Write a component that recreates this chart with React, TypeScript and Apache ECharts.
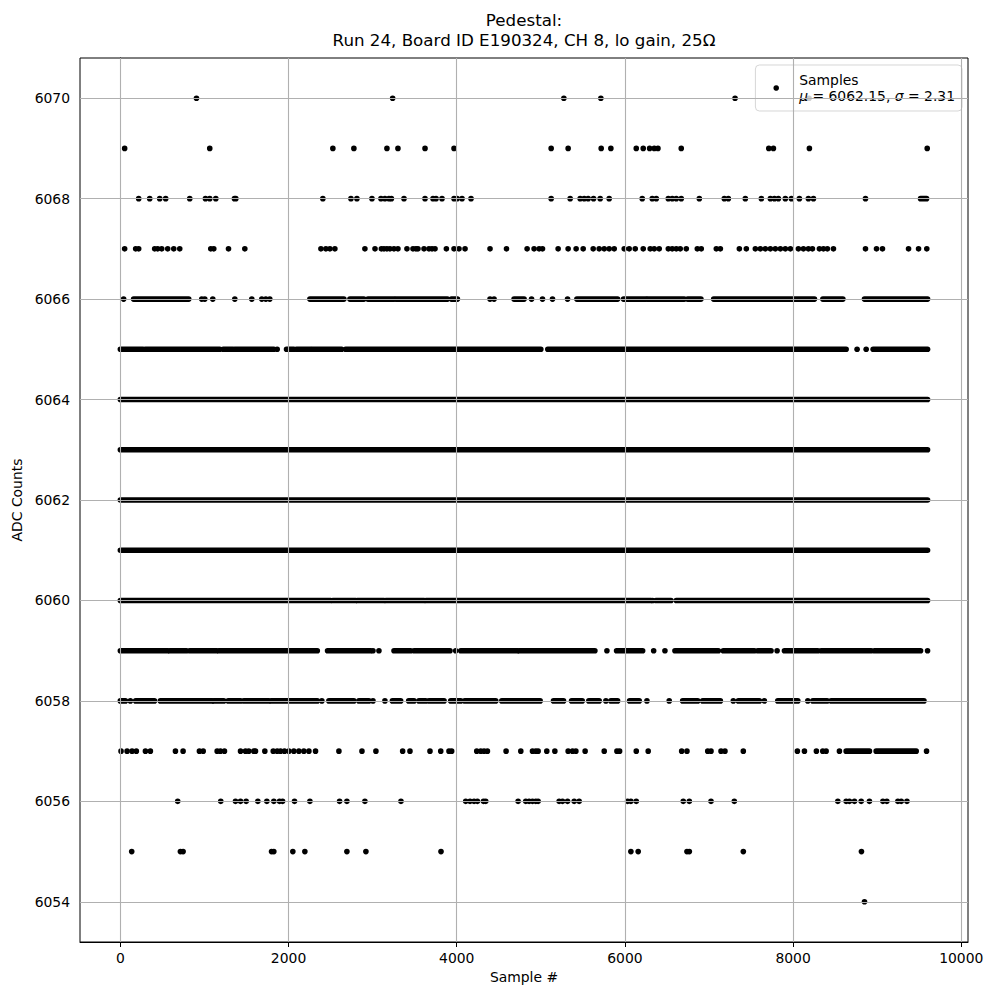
import React, { useEffect, useRef } from "react";
import * as echarts from "echarts";

// Sample numbers at each ADC level. A number is a single sample; a pair is a run of
// consecutive samples that merge into a solid row in the picture.
type Mark = number | [number, number];

const L6070: Mark[] = [905, 3238, 5274, 5714, 7310, 8190];
const L6069: Mark[] = [51, 1063, 2527, 2777, 3170, 3301, 3623, 3968, 5123, 5325, 5718, 5833, 6135, 6218, 6294, 6349, 6393, 6670, 7711, 7766, 8194, 9595];
const L6068: Mark[] = [218, 349, 468, 539, 825, 1012, 1063, 1135, [1357, 1373], 2408, 2742, 2813, 2992, 3099, 3146, 3194, 3223, 3373, 3623, 3718, 3754, 3825, 3968, 4004, 4063, 4170, 5123, 5349, 5468, 5516, 5563, 5627, 5706, 5813, 6206, 6325, 6373, 6516, 6563, 6611, 6670, 6885, 7182, 7230, 7432, 7623, 7730, 7778, 7825, 7908, 7980, 8075, 8182, 8242, 8861, [9516, 9587]];
const L6067: Mark[] = [51, 182, 218, 408, 444, 492, 563, 635, 706, 1075, 1111, 1286, 1480, 2385, 2444, 2492, 2551, 2908, 3028, 3104, 3135, 3170, 3206, 3254, 3301, 3408, 3480, 3515, 3539, 3611, 3670, 3706, 3742, 3877, 3968, 4027, 4099, 4396, 4592, 4837, 4920, 4980, 5020, 5206, 5325, 5420, 5504, 5623, 5694, 5754, 5813, 5873, 5992, 6051, 6123, 6218, 6301, 6349, 6408, 6516, 6563, 6611, 6658, 6730, 6861, 6908, 7087, 7135, 7361, 7444, 7551, 7611, 7670, 7730, 7789, 7849, 7908, 7968, 8063, 8123, 8182, 8230, 8313, 8361, 8408, 8480, 8861, 8992, 9063, 9373, 9492, 9590];
const L6066: Mark[] = [39, [158, 813], 968, 1004, 1099, 1361, 1563, 1682, 1730, 1777, [2254, 2658], [2730, 2896], [2944, 3254], [3277, 3889], [3937, 4008], 4396, 4444, [4682, 4801], 4890, 5020, 5139, 5318, [5429, 5913], [5984, 6250], [6270, 6706], [6746, 6904], [7056, 8254], [8354, 8592], [8849, 9599]];
const L6065: Mark[] = [[0, 270], [298, 1182], [1223, 1337], [1361, 1825], 1865, [1976, 2063], [2095, 2262], [2282, 2631], [2679, 5000], [5083, 8631], 8761, 8869, [8952, 9599]];
const L6064: Mark[] = [[0, 1988], [2012, 9599]];
const L6063: Mark[] = [[0, 9599]];
const L6062: Mark[] = [[0, 9599]];
const L6061: Mark[] = [[0, 9599]];
const L6060: Mark[] = [[0, 2500], [2527, 2798], [2818, 3135], [3158, 3611], [3635, 6310], 6330, [6369, 6548], [6611, 9599]];
const L6059: Mark[] = [[0, 563], [587, 786], [825, 1143], [1170, 2342], [2464, 2976], 3004, 3075, [3254, 3452], [3492, 3920], 3988, [4048, 4723], [4742, 5643], 5786, [5901, 6211], 6342, 6476, [6595, 7111], [7170, 7539], [7580, 7738], 7810, [7897, 8294], [8333, 8929], [8968, 9516], 9599];
const L6058: Mark[] = [[0, 60], 119, [182, 405], [476, 1092], [1111, 1230], [1282, 1429], [1468, 1765], [1794, 2342], 2396, [2480, 2777], [2837, 2956], 3004, 3146, [3235, 3333], [3429, 3492], [3551, 3631], [3670, 3849], [3929, 4048], [4095, 4464], [4536, 4992], [5151, 5270], [5366, 5492], [5571, 5694], 5774, [5833, 5913], [6056, 6170], 6262, 6527, [6687, 6866], [6925, 7135], 7289, [7349, 7599], 7658, [7818, 8056], 8175, [8235, 8405], [8452, 9556]];
const L6057: Mark[] = [8, 80, 139, 190, 298, 357, 655, 746, 940, 985, 1151, 1190, 1238, 1429, 1488, 1527, 1587, 1607, 1718, 1818, 1865, 1905, 1952, 2004, 2063, 2123, 2182, 2242, 2321, 2599, 2873, 3039, 3357, 3444, 3682, 3810, 3908, 3940, 4238, 4286, 4325, 4365, 4587, 4762, 4901, 4940, 4968, 5071, 5167, 5325, 5377, 5417, 5527, 5754, 5905, 5937, 6135, 6277, 6675, 6738, 6985, 7024, 7143, 7190, 7408, 8051, 8135, 8277, 8353, 8393, 8551, [8631, 8908], [8988, 9464], 9587];
const L6056: Mark[] = [682, 1194, 1369, 1429, 1496, 1635, 1742, 1825, 1893, 1929, 2071, 2254, 2607, 2694, 2908, 3337, 4107, 4158, 4206, 4246, 4318, 4345, 4730, 4821, 4861, 4901, 4940, 4968, 5218, 5258, 5318, 5397, 5456, 6032, 6071, 6135, 6694, 6766, 7024, 7301, 8532, 8631, 8670, 8730, 8810, 8908, 9068, 9115, 9246, 9286, 9354];
const L6055: Mark[] = [135, 714, 746, 1798, 1825, 2051, 2194, 2694, 2920, 3813, 6071, 6158, 6738, 6766, 7408, 8813];
const L6054: Mark[] = [8849];

const LEVELS: [number, Mark[]][] = [
  [6054, L6054], [6055, L6055], [6056, L6056], [6057, L6057], [6058, L6058],
  [6059, L6059], [6060, L6060], [6061, L6061], [6062, L6062], [6063, L6063],
  [6064, L6064], [6065, L6065], [6066, L6066], [6067, L6067], [6068, L6068],
  [6069, L6069], [6070, L6070],
];

const X_TICKS = [0, 2000, 4000, 6000, 8000, 10000];
const Y_TICKS = [6054, 6056, 6058, 6060, 6062, 6064, 6066, 6068, 6070];

const TITLE = "Pedestal:\nRun 24, Board ID E190324, CH 8, lo gain, 25Ω";
const MEAN = "6062.15";
const SIGMA = "2.31";

const FONT = "DejaVu Sans";

export default function App() {
  const ref = useRef<HTMLDivElement>(null);

  useEffect(() => {
    if (!ref.current) return;
    const chart = echarts.init(ref.current, undefined, { renderer: "svg" });

    const data: number[][] = [];
    LEVELS.forEach(([y, marks]) => {
      marks.forEach((m) => {
        if (Array.isArray(m)) data.push([m[0], m[1], y]);
        else data.push([m, m, y]);
      });
    });

    const R = 2.8;

    chart.setOption({
      animation: false,
      backgroundColor: "#fff",
      grid: {
        left: 80,
        right: 32,
        top: 58,
        bottom: 58,
        show: true,
        borderColor: "#000",
        borderWidth: 1,
        backgroundColor: "transparent",
      },
      graphic: [
        {
          type: "text",
          x: 524,
          y: 50,
          style: {
            text: TITLE,
            align: "center",
            textAlign: "center",
            verticalAlign: "bottom",
            textVerticalAlign: "bottom",
            fontSize: 16.7,
            fontFamily: FONT,
            lineHeight: 20,
            fill: "#000",
          },
        },
      ],
      legend: {
        right: 38,
        top: 65,
        orient: "vertical",
        data: [{ name: "Samples", icon: "circle", itemStyle: { color: "#000" } }],
        itemWidth: 36,
        itemHeight: 5.6,
        padding: [6, 7, 6, 18],
        backgroundColor: "rgba(255,255,255,0.8)",
        borderColor: "rgba(204,204,204,0.8)",
        borderWidth: 1,
        borderRadius: 4,
        formatter: () => `Samples\n{i|μ} = ${MEAN}, {i|σ} = ${SIGMA}`,
        textStyle: {
          fontSize: 13.9,
          fontFamily: FONT,
          color: "#000",
          lineHeight: 17,
          rich: {
            i: { fontStyle: "italic", fontSize: 13.9, fontFamily: FONT, color: "#000", lineHeight: 17 },
          },
        },
      },
      xAxis: {
        type: "value",
        min: -480,
        max: 10080,
        name: "Sample #",
        nameLocation: "middle",
        nameGap: 28,
        nameTextStyle: { fontSize: 13.9, fontFamily: FONT, color: "#000" },
        axisLine: { show: true, lineStyle: { color: "#000", width: 1 } },
        axisTick: { show: true, length: 5, lineStyle: { color: "#000", width: 1 }, customValues: X_TICKS },
        axisLabel: {
          customValues: X_TICKS,
          formatter: (v: number) => String(v),
          fontSize: 13.9,
          fontFamily: FONT,
          color: "#000",
          margin: 9,
        },
        splitLine: { show: false },
      },
      yAxis: {
        type: "value",
        min: 6053.2,
        max: 6070.8,
        name: "ADC Counts",
        nameLocation: "middle",
        nameGap: 51,
        nameTextStyle: { fontSize: 13.9, fontFamily: FONT, color: "#000" },
        axisLine: { show: true, lineStyle: { color: "#000", width: 1 } },
        axisTick: { show: true, length: 5, lineStyle: { color: "#000", width: 1 }, customValues: Y_TICKS },
        axisLabel: {
          customValues: Y_TICKS,
          formatter: (v: number) => String(v),
          fontSize: 13.9,
          fontFamily: FONT,
          color: "#000",
          margin: 10,
        },
        splitLine: { show: false },
      },
      series: [
        {
          type: "line",
          name: "grid",
          data: [],
          z: 1,
          silent: true,
          markLine: {
            silent: true,
            animation: false,
            symbol: ["none", "none"],
            label: { show: false },
            lineStyle: { color: "#b0b0b0", width: 1.1, type: "solid" },
            emphasis: { disabled: true },
            data: [
              ...X_TICKS.map((v) => ({ xAxis: v })),
              ...Y_TICKS.map((v) => ({ yAxis: v })),
            ],
          },
        },
        {
          type: "custom",
          name: "Samples",
          z: 3,
          itemStyle: { color: "#000" },
          encode: { x: [0, 1], y: 2 },
          data,
          renderItem: (_params: any, api: any) => {
            const y = api.value(2);
            const a = api.coord([api.value(0), y]);
            const b = api.coord([api.value(1), y]);
            return {
              type: "rect",
              shape: { x: a[0] - R, y: a[1] - R, width: b[0] - a[0] + 2 * R, height: 2 * R, r: R },
              style: { fill: "#000" },
            };
          },
        },
      ],
    });

    return () => chart.dispose();
  }, []);

  return (
    <div
      ref={ref}
      style={{ position: "absolute", left: 0, top: 0, width: 1000, height: 1000 }}
    />
  );
}
